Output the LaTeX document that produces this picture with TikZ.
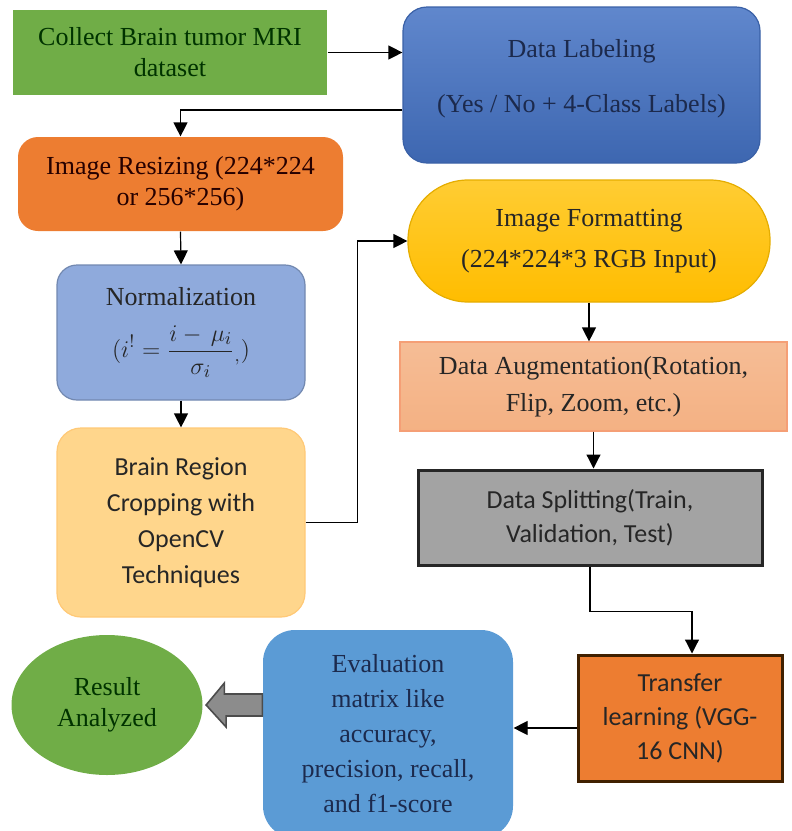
\documentclass[tikz,border=0pt]{standalone}
\usepackage{fontspec}
\setmainfont{Liberation Serif}
\newfontfamily\calibri{Carlito}
\usetikzlibrary{arrows.meta,positioning,shapes.geometric,calc}

\definecolor{collectgreen}{HTML}{70AD47}
\definecolor{labelblue}{HTML}{4472C4}
\definecolor{resizeorange}{HTML}{ED7D31}
\definecolor{normblue}{HTML}{8FAADC}
\definecolor{cropyellow}{HTML}{FFD68C}
\definecolor{formatgold}{HTML}{FFC000}
\definecolor{augsalmon}{HTML}{F4B183}
\definecolor{splitgray}{HTML}{A3A3A3}
\definecolor{evalblue}{HTML}{5B9BD5}
\definecolor{navytext}{HTML}{1C2A4D}
\definecolor{arrowgray}{HTML}{8C8C8C}

\begin{document}
\begin{tikzpicture}[x=0.5pt,y=-0.5pt,font=\fontsize{13}{15.5}\selectfont,
  >={Triangle[length=7pt,width=7pt]},line width=0.6pt]
  \useasboundingbox (0,0) rectangle (792,831);
  \clip (0,0) rectangle (792,831);

  % left column
  \node[fill=collectgreen,minimum width=157pt,minimum height=42.5pt,align=center,text=black!80!green] (collect) at (170,52.5) {Collect Brain tumor MRI\\dataset};
  \node[draw=labelblue!85!black,top color=labelblue!85!white,bottom color=labelblue!90!black,rounded corners=12pt,minimum width=178.5pt,minimum height=78pt,align=center,text=navytext] (label) at (581.5,85) {Data Labeling\\[12pt](Yes / No + 4-Class Labels)\\[-6pt]~};
  \node[fill=resizeorange,rounded corners=10pt,minimum width=162.5pt,minimum height=47pt,align=center,text=black!85!red] (resize) at (180.5,184) {Image Resizing (224*224\\or 256*256)};
  \node[draw=normblue!80!black,fill=normblue,rounded corners=10pt,minimum width=124pt,minimum height=67.5pt,align=center,text=black!85] (norm) at (181,332.5) {Normalization\\[9pt]$\displaystyle(i^{!} = \frac{i-\,\mu_i}{\sigma_i}{}_{,})$};
  \node[draw=cropyellow!85!orange,fill=cropyellow,rounded corners=12pt,minimum width=124pt,minimum height=94.5pt,align=center,font=\calibri\fontsize{13}{18}\selectfont,text=black!85] (crop) at (181,522.5) {Brain Region\\Cropping with\\OpenCV\\Techniques};

  % right column
  \node[draw=formatgold!90!black,top color=formatgold!80!white,bottom color=formatgold!95!orange,rounded corners=30pt,minimum width=181pt,minimum height=61pt,align=center,text=black!85] (format) at (589,241) {Image Formatting\\[5pt](224*224*3 RGB Input)};
  \node[draw=augsalmon!90!red,top color=augsalmon!85!white,bottom color=augsalmon,minimum width=193.5pt,minimum height=44.5pt,align=center,text=black!85] (augment) at (593.5,386.5) {Data Augmentation(Rotation,\\[3pt]Flip, Zoom, etc.)};
  \node[draw=black!85,line width=1.5pt,fill=splitgray,minimum width=172pt,minimum height=47.5pt,align=center,font=\calibri\fontsize{13}{17}\selectfont,text=black!85] (split) at (590,517.5) {Data Splitting(Train,\\Validation, Test)};
  \node[draw=black!75!orange,line width=1.5pt,fill=resizeorange,minimum width=102pt,minimum height=63pt,align=center,font=\calibri\fontsize{13}{17}\selectfont,text=black!85] (transfer) at (680,718) {Transfer\\learning (VGG-\\16 CNN)};

  % bottom row
  \node[fill=evalblue,rounded corners=16pt,minimum width=125pt,minimum height=104pt,align=center,text=navytext,font=\fontsize{13}{17.5}\selectfont] (eval) at (388,734) {Evaluation\\matrix like\\accuracy,\\precision, recall,\\and f1-score};
  \node[ellipse,fill=collectgreen,minimum width=95.5pt,minimum height=70pt,align=center,text=black!80!green] (result) at (107,705) {Result\\Analyzed};

  % connectors
  \coordinate (tw) at ([yshift=-5pt]transfer.west);
  \draw[->] (collect.east) -- (label.west |- collect.east);
  \draw[->] ([yshift=-12.5pt]label.west) -| (resize.north);
  \draw[->] (resize.south) -- (norm.north);
  \draw[->] (norm.south) -- (crop.north);
  \draw[->] (crop.east) -- ++(52,0) |- (format.west);
  \draw[->] (format.south) -- (format.south |- augment.north);
  \draw[->] (augment.south) -- (augment.south |- split.north);
  \draw[->] (split.south) -- ++(0,45) -| ([xshift=6pt]transfer.north);
  \draw[->] (tw) -- (eval.east |- tw);
  \draw[draw=black!70,fill=arrowgray,line width=0.8pt] ($(eval.west |- result.east)+(0,-11)$) -- ++(-38,0) -- ++(0,-11) -- ($(result.east)+(3,0)$) -- ++(20,22) -- ++(0,-11) -- ($(eval.west |- result.east)+(0,11)$) -- cycle;
\end{tikzpicture}
\end{document}
